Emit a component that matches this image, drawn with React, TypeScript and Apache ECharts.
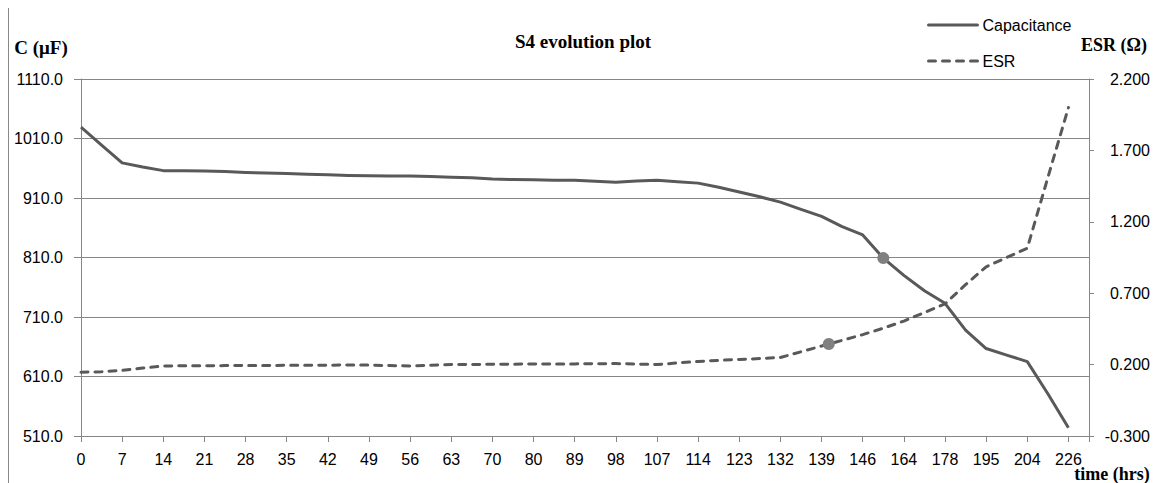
import React, { useEffect, useRef } from 'react';
import * as echarts from 'echarts';

// Tick labels of the time axis (hrs); one label every second data slot
const timeLabels = ['0', '7', '14', '21', '28', '35', '42', '49', '56', '63', '70', '80', '89', '98', '107', '114', '123', '132', '139', '146', '164', '178', '195', '204', '226'];

// Capacitance (µF), one value per data slot (slot 2k sits under timeLabels[k])
const capacitance = [
  1029, 999, 969, 962, 956, 956, 955.5, 954.5, 953, 952,
  951, 950, 949, 948, 947.5, 947, 947, 946, 945, 944,
  942, 941, 940.5, 940, 940, 938, 936.5, 938.5, 940, 937.5,
  935, 928, 920, 912, 903, 891, 879, 862, 848, 809,
  780, 754, 733, 688, 657, 646, 635, 581, 524,
];

// ESR (Ω), one value per data slot
const esr = [
  0.147, 0.15, 0.16, 0.176, 0.19, 0.192, 0.192, 0.193, 0.194, 0.194,
  0.195, 0.195, 0.196, 0.197, 0.197, 0.193, 0.19, 0.196, 0.2, 0.201,
  0.202, 0.203, 0.204, 0.205, 0.205, 0.206, 0.207, 0.204, 0.2, 0.212,
  0.222, 0.23, 0.236, 0.242, 0.25, 0.29, 0.33, 0.37, 0.41, 0.455,
  0.505, 0.565, 0.625, 0.76, 0.885, 0.95, 1.015, 1.51, 2.0,
];

// Highlighted points [slot, value]
const capMarker = [39, 809];
const esrMarker = [36.35, 0.344];

const SLOT_COUNT = 49;

const GRAY_LINE = '#595959';
const GRID_GRAY = '#868686';
const SANS = '"Liberation Sans", Arial, sans-serif';
const SERIF = '"Liberation Serif", "Times New Roman", serif';

export default function App() {
  const ref = useRef<HTMLDivElement>(null);

  useEffect(() => {
    const chart = echarts.init(ref.current!, undefined, { renderer: 'svg' });
    chart.setOption({
      animation: false,
      backgroundColor: '#ffffff',
      title: {
        text: 'S4 evolution plot',
        left: 'center',
        top: 19,
        textStyle: { fontFamily: SERIF, fontWeight: 'bold', fontSize: 19, color: '#000' },
      },
      legend: {
        data: ['Capacitance', 'ESR'],
        orient: 'vertical',
        left: 913,
        top: 4,
        itemWidth: 49,
        itemHeight: 16,
        itemGap: 20,
        itemStyle: { opacity: 0 },
        lineStyle: { width: 3, cap: 'round' },
        textStyle: { fontFamily: SANS, fontSize: 16, color: '#000' },
      },
      graphic: [
        {
          type: 'text', x: 32, y: 39,
          style: { text: 'C (μF)', font: `bold 19px ${SERIF}`, fill: '#000', textAlign: 'center', textVerticalAlign: 'middle' },
        },
        {
          type: 'text', x: 1105, y: 37,
          style: { text: 'ESR (Ω)', font: `bold 18px ${SERIF}`, fill: '#000', textAlign: 'center', textVerticalAlign: 'middle' },
        },
        {
          type: 'text', x: 1103, y: 466,
          style: { text: 'time (hrs)', font: `bold 18px ${SERIF}`, fill: '#000', textAlign: 'center', textVerticalAlign: 'middle' },
        },
      ],
      grid: { left: 72, right: 68, top: 71, height: 357 },
      xAxis: {
        type: 'value',
        min: 0,
        max: SLOT_COUNT,
        interval: 2,
        axisLine: { show: true, onZero: false, lineStyle: { color: GRID_GRAY, width: 1 } },
        axisTick: { show: true, length: 6, lineStyle: { color: GRID_GRAY } },
        splitLine: { show: false },
        axisLabel: {
          margin: 15,
          fontFamily: SANS,
          fontSize: 16,
          color: '#000',
          formatter: (v: number) => (v % 2 === 0 && v / 2 < timeLabels.length ? timeLabels[v / 2] : ''),
        },
      },
      yAxis: [
        {
          type: 'value',
          min: 510,
          max: 1110,
          interval: 100,
          axisLine: { show: true, lineStyle: { color: GRID_GRAY, width: 1 } },
          axisTick: { show: true, length: 7, lineStyle: { color: GRID_GRAY } },
          splitLine: { show: true, lineStyle: { color: GRID_GRAY, width: 1 } },
          axisLabel: {
            margin: 18,
            fontFamily: SANS,
            fontSize: 16,
            color: '#000',
            formatter: (v: number) => v.toFixed(1),
          },
        },
        {
          type: 'value',
          position: 'right',
          min: -0.3,
          max: 2.2,
          interval: 0.5,
          axisLine: { show: true, lineStyle: { color: GRID_GRAY, width: 1 } },
          axisTick: { show: true, length: 5, lineStyle: { color: GRID_GRAY } },
          splitLine: { show: false },
          axisLabel: {
            margin: 61,
            align: 'right',
            fontFamily: SANS,
            fontSize: 16,
            color: '#000',
            formatter: (v: number) => v.toFixed(3),
          },
        },
      ],
      series: [
        {
          name: 'Capacitance',
          type: 'line',
          yAxisIndex: 0,
          data: capacitance.map((v, i) => [i, v]),
          symbol: 'none',
          lineStyle: { color: GRAY_LINE, width: 3, join: 'round' },
          itemStyle: { color: GRAY_LINE },
          markPoint: {
            symbol: 'circle',
            symbolSize: 12,
            itemStyle: { color: '#808080', opacity: 1 },
            label: { show: false },
            data: [{ coord: capMarker }],
          },
        },
        {
          name: 'ESR',
          type: 'line',
          yAxisIndex: 1,
          data: esr.map((v, i) => [i, v]),
          symbol: 'none',
          lineStyle: { color: GRAY_LINE, width: 3, type: [7, 7], cap: 'round', join: 'round' },
          itemStyle: { color: GRAY_LINE },
          markPoint: {
            symbol: 'circle',
            symbolSize: 12,
            itemStyle: { color: '#808080', opacity: 1 },
            label: { show: false },
            data: [{ coord: esrMarker }],
          },
        },
      ],
    });
    return () => chart.dispose();
  }, []);

  return (
    <div style={{ width: 1150, height: 480, marginTop: -1, boxSizing: 'border-box', border: '1px solid #898989' }}>
      <div ref={ref} style={{ width: 1148, height: 478 }} />
    </div>
  );
}
